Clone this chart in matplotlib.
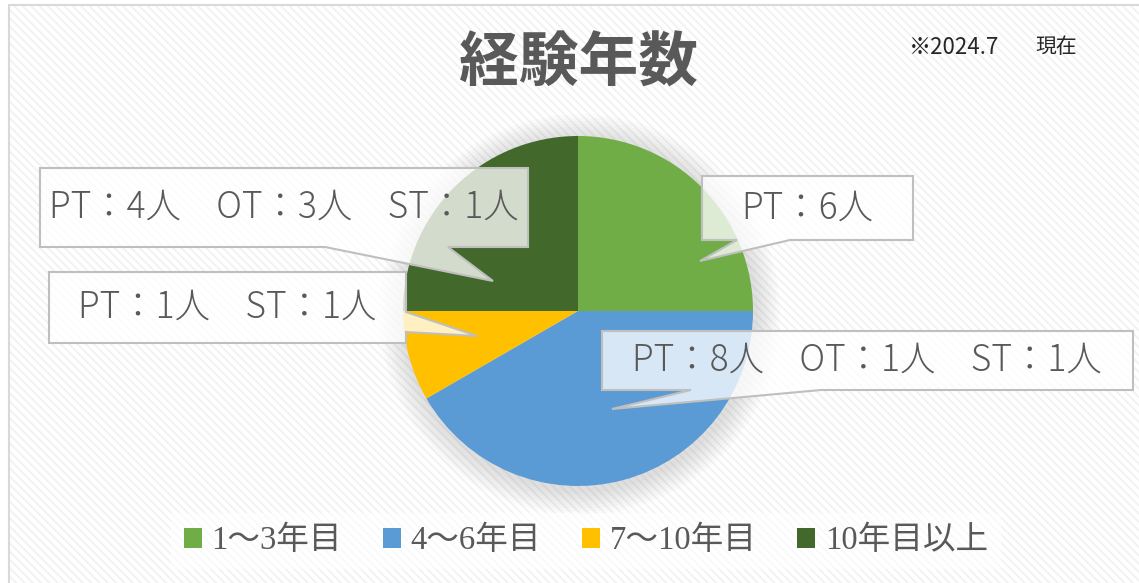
import matplotlib.pyplot as plt
from matplotlib.patches import Polygon, Rectangle, Circle, Patch

plt.rcParams['font.family'] = ['Noto Sans CJK JP', 'DejaVu Sans']

W, H = 1139, 583

categories = ['1～3年目', '4～6年目', '7～10年目', '10年目以上']
values = [6, 10, 2, 6]
colors = ['#70ad47', '#5b9bd5', '#ffc000', '#43682b']
labels = ['PT：6人', 'PT：8人　OT：1人　ST：1人', 'PT：1人　ST：1人',
          'PT：4人　OT：3人　ST：1人']

TXT = '#595959'

fig = plt.figure(figsize=(W / 100, H / 100), dpi=100)

# background with faint diagonal texture
bg = fig.add_axes([0, 0, 1, 1], zorder=0)
bg.set_xlim(0, W)
bg.set_ylim(H, 0)
bg.axis('off')
bg.add_patch(Rectangle((9, 5), 1200, 700, facecolor='white', edgecolor='#d9d9d9', lw=1.5))
plt.rcParams['hatch.linewidth'] = 1.2
bg.add_patch(Rectangle((10, 6), 1200, 700, facecolor='none', edgecolor='#f1f1f1',
                       hatch='\\\\\\\\', lw=0))

# pie
cx, cy, r = 578, 311, 175
pax = fig.add_axes([(cx - r) / W, (H - cy - r) / H, 2 * r / W, 2 * r / H], zorder=1)
for k in range(8):
    pax.add_patch(Circle((0.01, -0.02), 1.0 + 0.018 * (k + 1), color='#808080',
                         alpha=0.03, lw=0, clip_on=False))
wedges, _ = pax.pie(values, colors=colors, startangle=90, counterclock=False,
                    wedgeprops=dict(linewidth=0))
pax.set_xlim(-1, 1)
pax.set_ylim(-1, 1)
pax.set_aspect('equal')

# callouts in pixel coordinates
ov = fig.add_axes([0, 0, 1, 1], zorder=2)
ov.set_xlim(0, W)
ov.set_ylim(H, 0)
ov.axis('off')
ov.patch.set_alpha(0)

callouts = [
    ([(702, 176), (913, 176), (913, 240), (790, 240), (700, 261), (737, 240), (702, 240)], (807, 208)),
    ([(602, 331), (1133, 331), (1133, 390), (821, 390), (612, 409), (691, 390), (602, 390)], (867, 360)),
    ([(49, 272), (406, 272), (406, 312), (477, 336), (406, 332), (406, 343), (49, 343)], (227, 307)),
    ([(40, 168), (528, 168), (528, 247), (448, 247), (493, 281), (325, 247), (40, 247)], (284, 207)),
]
for (pts, (tx, ty)), lab in zip(callouts, labels):
    ov.add_patch(Polygon(pts, closed=True, facecolor=(1, 1, 1, 0.77),
                         edgecolor='#bfbfbf', lw=1.5))
    ov.text(tx, ty, lab, ha='center', va='center', fontsize=25.5, color=TXT,
            fontweight='light')

# title and note
fig.text(578 / W, 1 - 65 / H, '経験年数', ha='center', va='center', fontsize=43,
         fontweight='bold', color=TXT)
fig.text(909 / W, 1 - 47 / H, '※2024.7', ha='left', va='center', fontsize=16,
         color='#262626')
fig.text(1035 / W, 1 - 47 / H, '現在', ha='left', va='center', fontsize=15,
         color='#262626')

# legend
handles = [Patch(facecolor=c, edgecolor='none') for c in colors]
leg = fig.legend(handles, categories, loc='center', bbox_to_anchor=(586 / W, 1 - 541 / H),
                 ncol=4, frameon=True, handlelength=0.55, handleheight=0.55,
                 handletextpad=0.3, columnspacing=1.25, borderpad=0.4,
                 prop={'family': ['Liberation Serif', 'Noto Sans CJK JP'], 'size': 23.5})
leg.get_frame().set_facecolor('white')
leg.get_frame().set_alpha(0.6)
leg.get_frame().set_edgecolor('none')
leg.get_frame().set_boxstyle('square', pad=0)
for t in leg.get_texts():
    t.set_color(TXT)

fig.savefig('out.png', dpi=100)
